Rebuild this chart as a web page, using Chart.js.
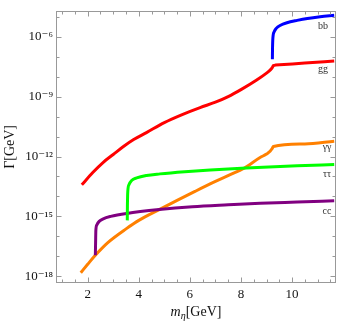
<!DOCTYPE html>
<html>
<head>
<meta charset="utf-8">
<script src="https://cdn.jsdelivr.net/npm/chart.js@4.4.1/dist/chart.umd.min.js"></script>
<style>
  html, body { margin: 0; padding: 0; background: #fff; }
  canvas { display: block; }
</style>
</head>
<body>
<canvas id="widths" width="342" height="329"></canvas>
<script>
// eta decay widths (GeV) vs eta mass (GeV)
const massBB  = [9.23, 9.235, 9.25, 9.3, 9.38, 9.55, 9.8, 10.2, 10.6, 11.1, 11.65];
const widthBB = [7.41e-8, 2.51e-7, 8.91e-7, 1.78e-6, 2.63e-6, 3.80e-6, 5.01e-6, 6.61e-6, 8.32e-6, 1.02e-5, 1.20e-5];

const massGG  = [1.77, 2.2, 2.6, 3.0, 3.4, 3.8, 4.3, 5.0, 5.7, 6.4, 7.0, 7.5, 8.0, 8.6, 9.0, 9.15, 9.23, 9.27, 9.35, 10.5, 11.65];
const widthGG = [3.80e-14, 1.58e-13, 5.01e-13, 1.26e-12, 3.16e-12, 7.08e-12, 1.58e-11, 5.01e-11, 1.26e-10, 2.82e-10,
                 5.25e-10, 1.00e-9, 2.24e-9, 6.61e-9, 1.51e-8, 2.19e-8, 2.95e-8, 3.63e-8, 3.80e-8, 4.79e-8, 6.17e-8];

const massAA  = [1.73, 2.0, 2.29, 2.8, 3.53, 4.0, 4.8, 5.5, 6.2, 7.0, 7.6, 8.1, 8.75, 9.0, 9.14, 9.22, 9.27, 10.5, 11.65];
const widthAA = [1.51e-18, 3.98e-18, 1.10e-17, 5.01e-17, 2.51e-16, 6.31e-16, 2.19e-15, 6.31e-15, 1.78e-14, 5.62e-14,
                 1.26e-13, 2.51e-13, 8.91e-13, 1.32e-12, 1.82e-12, 2.51e-12, 3.16e-12, 4.27e-12, 5.89e-12];

const massTT  = [3.55, 3.555, 3.57, 3.62, 3.72, 3.92, 4.3, 4.83, 5.8, 6.8, 8.2, 10.2, 11.65];
const widthTT = [6.31e-16, 3.16e-15, 1.78e-14, 3.98e-14, 6.31e-14, 8.51e-14, 1.12e-13, 1.35e-13, 1.74e-13, 2.14e-13,
                 2.69e-13, 3.47e-13, 3.98e-13];

const massCC  = [2.30, 2.31, 2.32, 2.36, 2.45, 2.61, 2.9, 3.53, 4.8, 6.1, 7.5, 8.75, 10.2, 11.65];
const widthCC = [1.12e-17, 5.01e-17, 2.00e-16, 3.80e-16, 5.62e-16, 7.59e-16, 1.00e-15, 1.41e-15, 2.19e-15, 3.02e-15,
                 3.80e-15, 4.57e-15, 5.25e-15, 6.03e-15];

// channel names and where their tags sit (mass, width)
const channelNames = ['bb', 'gg', 'γγ', 'ττ', 'cc'];
const tagMass  = [11.21, 11.21, 11.37, 11.37, 11.37];
const tagWidth = [3.3e-6, 2.24e-8, 2.75e-12, 1.32e-13, 1.70e-15];

// axes
const xMin = 0.76, xMax = 11.72;
const yMin = 4.6e-19, yMax = 2.0e-5;
const xMajorTicks = [2, 4, 6, 8, 10];
const yDecades = [-18, -17, -16, -15, -14, -13, -12, -11, -10, -9, -8, -7, -6, -5];

const SERIF = '"Liberation Serif", "DejaVu Serif", serif';
const SUP = { '-': '⁻', '0': '⁰', '1': '¹', '2': '²', '3': '³', '4': '⁴', '5': '⁵', '6': '⁶', '7': '⁷', '8': '⁸', '9': '⁹' };

function points(xs, ys) {
  return xs.map((m, i) => ({ x: m, y: ys[i] }));
}

function series(label, xs, ys, color) {
  return {
    label: label,
    data: points(xs, ys),
    borderColor: color,
    backgroundColor: color,
    borderWidth: 3,
    pointRadius: 0,
    fill: false,
    cubicInterpolationMode: 'monotone'
  };
}

// frame with inward ticks, x title with subscript and the channel tags
const framePlugin = {
  id: 'frame',
  afterDraw(chart) {
    const { ctx, chartArea: a, scales: { x, y } } = chart;
    const L = Math.round(a.left) + 0.5, R = Math.round(a.right) - 0.5;
    const T = Math.round(a.top) + 0.5, B = Math.round(a.bottom) - 0.5;
    ctx.save();
    ctx.strokeStyle = '#999';
    ctx.lineWidth = 1;
    ctx.strokeRect(L, T, R - L, B - T);

    ctx.beginPath();
    yDecades.forEach(e => {
      const py = Math.round(y.getPixelForValue(Math.pow(10, e))) + 0.5;
      const len = e % 3 === 0 ? 5 : 3;
      ctx.moveTo(L, py); ctx.lineTo(L + len, py);
      ctx.moveTo(R, py); ctx.lineTo(R - len, py);
    });
    for (let v = 1; v <= 11.5; v += 0.5) {
      const px = Math.round(x.getPixelForValue(v)) + 0.5;
      const len = xMajorTicks.includes(v) ? 5 : 3;
      ctx.moveTo(px, B); ctx.lineTo(px, B - len);
      ctx.moveTo(px, T); ctx.lineTo(px, T + len);
    }
    ctx.stroke();

    // x axis title: m_eta[GeV]
    ctx.fillStyle = '#111';
    ctx.textBaseline = 'alphabetic';
    ctx.textAlign = 'left';
    const fM = 'italic 14px ' + SERIF, fSub = 'italic 10px ' + SERIF, fU = '14px ' + SERIF;
    ctx.font = fM; const wM = ctx.measureText('m').width;
    ctx.font = fSub; const wS = ctx.measureText('η').width;
    ctx.font = fU; const wU = ctx.measureText('[GeV]').width;
    let tx = (a.left + a.right) / 2 - (wM + wS + wU) / 2;
    const ty = a.bottom + 33;
    ctx.font = fM; ctx.fillText('m', tx, ty); tx += wM;
    ctx.font = fSub; ctx.fillText('η', tx, ty + 3); tx += wS;
    ctx.font = fU; ctx.fillText('[GeV]', tx, ty);

    // channel tags
    ctx.font = '10px ' + SERIF;
    ctx.fillStyle = '#333';
    ctx.textAlign = 'center';
    ctx.textBaseline = 'middle';
    channelNames.forEach((name, i) => {
      ctx.fillText(name, x.getPixelForValue(tagMass[i]), y.getPixelForValue(tagWidth[i]));
    });
    ctx.restore();
  }
};

new Chart(document.getElementById('widths').getContext('2d'), {
  type: 'line',
  data: {
    datasets: [
      series('bb', massBB, widthBB, '#0000ff'),
      series('gg', massGG, widthGG, '#ff0000'),
      series('ττ', massTT, widthTT, '#00ff00'),
      series('cc', massCC, widthCC, '#800080'),
      series('γγ', massAA, widthAA, '#ff8000')
    ]
  },
  options: {
    responsive: false,
    devicePixelRatio: 1,
    animation: false,
    layout: { padding: { top: 2, right: 6, left: 0, bottom: 0 } },
    plugins: { legend: { display: false }, tooltip: { enabled: false } },
    scales: {
      x: {
        type: 'linear',
        min: xMin,
        max: xMax,
        bounds: 'data',
        grid: { display: false, drawTicks: false },
        border: { display: false },
        afterBuildTicks: (scale) => { scale.ticks = xMajorTicks.map(v => ({ value: v })); },
        afterFit: (scale) => { scale.height = 46; },
        ticks: {
          autoSkip: false,
          maxRotation: 0,
          padding: 4,
          color: '#111',
          font: { family: SERIF, size: 13 },
          callback: (v) => String(v)
        }
      },
      y: {
        type: 'logarithmic',
        min: yMin,
        max: yMax,
        bounds: 'data',
        grid: { display: false, drawTicks: false },
        border: { display: false },
        afterBuildTicks: (scale) => { scale.ticks = yDecades.map(e => ({ value: Math.pow(10, e) })); },
        afterFit: (scale) => { scale.width = 56; },
        title: {
          display: true,
          text: 'Γ[GeV]',
          color: '#111',
          font: { family: SERIF, size: 14 },
          padding: { top: 2, bottom: 0 }
        },
        ticks: {
          autoSkip: false,
          padding: 3,
          color: '#111',
          font: { family: SERIF, size: 13 },
          callback: (v) => {
            const e = Math.round(Math.log10(v));
            if (e % 3 !== 0) return '';
            return '10' + String(e).split('').map(c => SUP[c]).join('');
          }
        }
      }
    }
  },
  plugins: [framePlugin]
});
</script>
</body>
</html>
